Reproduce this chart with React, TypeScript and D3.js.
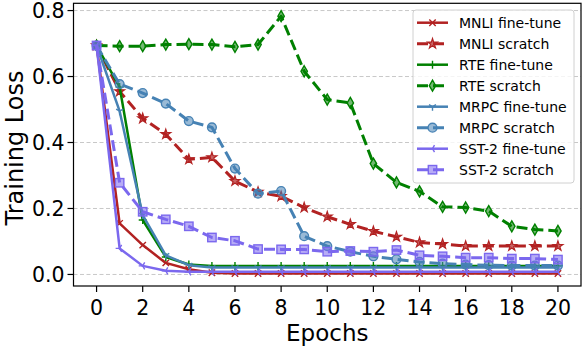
import React from "react";
import * as d3 from "d3";

// epochs on the x axis
const epochs = [0, 1, 2, 3, 4, 5, 6, 7, 8, 9, 10, 11, 12, 13, 14, 15, 16, 17, 18, 19, 20];

// training loss per epoch
const mnliFineTune = [0.694, 0.155, 0.089, 0.035, 0.016, 0.005, 0.003, 0.003, 0.003, 0.003, 0.003, 0.003, 0.003, 0.003, 0.003, 0.003, 0.003, 0.003, 0.003, 0.003, 0.003];
const mnliScratch = [0.694, 0.555, 0.473, 0.425, 0.349, 0.355, 0.283, 0.250, 0.237, 0.203, 0.175, 0.152, 0.131, 0.114, 0.097, 0.092, 0.086, 0.086, 0.086, 0.086, 0.086];
const rteFineTune = [0.694, 0.568, 0.165, 0.053, 0.030, 0.026, 0.026, 0.026, 0.026, 0.026, 0.026, 0.026, 0.026, 0.026, 0.026, 0.026, 0.026, 0.026, 0.026, 0.026, 0.026];
const rteScratch = [0.694, 0.692, 0.692, 0.697, 0.698, 0.697, 0.690, 0.697, 0.783, 0.616, 0.530, 0.520, 0.336, 0.279, 0.252, 0.205, 0.203, 0.192, 0.146, 0.136, 0.132];
const mrpcFineTune = [0.694, 0.495, 0.180, 0.058, 0.028, 0.021, 0.021, 0.021, 0.021, 0.021, 0.021, 0.021, 0.021, 0.021, 0.021, 0.021, 0.021, 0.021, 0.021, 0.021, 0.021];
const mrpcScratch = [0.694, 0.577, 0.550, 0.518, 0.465, 0.446, 0.321, 0.245, 0.253, 0.116, 0.086, 0.069, 0.055, 0.046, 0.038, 0.033, 0.030, 0.028, 0.027, 0.027, 0.027];
const sstFineTune = [0.694, 0.079, 0.026, 0.011, 0.008, 0.008, 0.008, 0.008, 0.008, 0.008, 0.008, 0.008, 0.008, 0.008, 0.008, 0.008, 0.008, 0.008, 0.008, 0.008, 0.008];
const sstScratch = [0.694, 0.278, 0.190, 0.167, 0.146, 0.112, 0.102, 0.077, 0.076, 0.076, 0.069, 0.071, 0.069, 0.074, 0.058, 0.055, 0.051, 0.051, 0.048, 0.048, 0.045];

const xTicks = [0, 2, 4, 6, 8, 10, 12, 14, 16, 18, 20];
const yTicks = [0.0, 0.2, 0.4, 0.6, 0.8];

type Marker = "x" | "star" | "plus" | "thin_diamond" | "tri_down" | "circle" | "tri_left" | "square";
type Series = { label: string; values: number[]; color: string; dashed: boolean; marker: Marker };

const series: Series[] = [
  { label: "MNLI fine-tune", values: mnliFineTune, color: "#b22222", dashed: false, marker: "x" },
  { label: "MNLI scratch", values: mnliScratch, color: "#b22222", dashed: true, marker: "star" },
  { label: "RTE fine-tune", values: rteFineTune, color: "#008000", dashed: false, marker: "plus" },
  { label: "RTE scratch", values: rteScratch, color: "#008000", dashed: true, marker: "thin_diamond" },
  { label: "MRPC fine-tune", values: mrpcFineTune, color: "#4682b4", dashed: false, marker: "tri_down" },
  { label: "MRPC scratch", values: mrpcScratch, color: "#4682b4", dashed: true, marker: "circle" },
  { label: "SST-2 fine-tune", values: sstFineTune, color: "#7b68ee", dashed: false, marker: "tri_left" },
  { label: "SST-2 scratch", values: sstScratch, color: "#7b68ee", dashed: true, marker: "square" },
];

const width = 584;
const height = 346;
const font = "'DejaVu Sans', sans-serif";

const starPath = d3.symbol(d3.symbolStar, 30)() as string;

function MarkerGlyph({ kind, color, x, y }: { kind: Marker; color: string; x: number; y: number }) {
  const t = `translate(${x},${y})`;
  const line = { stroke: color, strokeWidth: 1.4, fill: "none" };
  const filled = { stroke: color, strokeWidth: 1.4, fill: color, fillOpacity: 0.55 };
  switch (kind) {
    case "x":
      return <path transform={t} d="M-3.2,-3.2L3.2,3.2M-3.2,3.2L3.2,-3.2" {...line} />;
    case "plus":
      return <path transform={t} d="M-4,0L4,0M0,-4L0,4" {...line} />;
    case "tri_down":
      return <path transform={t} d="M0,0L0,4M0,0L-3.5,-2M0,0L3.5,-2" {...line} />;
    case "tri_left":
      return <path transform={t} d="M0,0L-4,0M0,0L2,-3.5M0,0L2,3.5" {...line} />;
    case "star":
      return <path transform={t} d={starPath} stroke={color} strokeWidth={1.2} fill={color} fillOpacity={0.7} />;
    case "thin_diamond":
      return <path transform={t} d="M0,-5.5L3.2,0L0,5.5L-3.2,0Z" {...filled} />;
    case "circle":
      return <circle cx={x} cy={y} r={4.4} {...filled} />;
    case "square":
      return <rect x={x - 4.2} y={y - 4.2} width={8.4} height={8.4} {...filled} />;
  }
}

export default function App() {
  const left = 73.5, right = 581, top = 3.3, bottom = 286;
  const x = d3.scaleLinear().domain([-1, 21]).range([left, right]);
  const y = d3.scaleLinear().domain([-0.035, 0.822]).range([bottom, top]);

  const line = d3.line<number>()
    .x((_, i) => x(epochs[i]))
    .y(d => y(d));

  const legendX = 413, legendY = 10, rowH = 21;

  return (
    <svg width={width} height={height} style={{ position: "absolute", left: 0, top: 0 }} fontFamily={font}>
      <rect width={width} height={height} fill="#fff" />

      {/* grid */}
      {yTicks.map(t => (
        <line key={"g" + t} x1={left} x2={right} y1={y(t)} y2={y(t)}
          stroke="#c8c8c8" strokeWidth={1} strokeDasharray="4,2.5" />
      ))}

      {/* series */}
      <g>
        {series.map(s => (
          <g key={s.label}>
            <path d={line(s.values) ?? ""} fill="none" stroke={s.color}
              strokeWidth={s.dashed ? 3 : 2.5} strokeDasharray={s.dashed ? "11,5" : undefined}
              strokeLinejoin="round" />
            {s.values.map((v, i) => (
              <MarkerGlyph key={i} kind={s.marker} color={s.color} x={x(epochs[i])} y={y(v)} />
            ))}
          </g>
        ))}
      </g>

      {/* frame */}
      <rect x={left} y={top} width={right - left} height={bottom - top} fill="none" stroke="#000" strokeWidth={1.2} />

      {/* x axis */}
      {xTicks.map(t => (
        <g key={"x" + t}>
          <line x1={x(t)} x2={x(t)} y1={bottom} y2={bottom + 6} stroke="#000" strokeWidth={1.2} />
          <text x={x(t)} y={314.5} textAnchor="middle" fontSize={20.5}>{t}</text>
        </g>
      ))}
      <text x={(left + right) / 2} y={340.5} textAnchor="middle" fontSize={23}>Epochs</text>

      {/* y axis */}
      {yTicks.map(t => (
        <g key={"y" + t}>
          <line x1={left - 6} x2={left} y1={y(t)} y2={y(t)} stroke="#000" strokeWidth={1.2} />
          <text x={left - 9} y={y(t)} dy="0.36em" textAnchor="end" fontSize={20.5}>{d3.format(".1f")(t)}</text>
        </g>
      ))}
      <text transform="translate(22.6,148) rotate(-90)" textAnchor="middle" fontSize={24}>Training Loss</text>

      {/* legend */}
      <rect x={legendX} y={legendY} width={161} height={173} rx={3} fill="#fff" fillOpacity={0.8}
        stroke="#d0d0d0" strokeWidth={1} />
      {series.map((s, i) => {
        const cy = legendY + 12.7 + i * rowH;
        return (
          <g key={"l" + s.label}>
            <line x1={417} x2={448} y1={cy} y2={cy} stroke={s.color}
              strokeWidth={s.dashed ? 3 : 2.5} strokeDasharray={s.dashed ? "11,5" : undefined} />
            <MarkerGlyph kind={s.marker} color={s.color} x={432.5} y={cy} />
            <text x={459} y={cy} dy="0.36em" fontSize={14}>{s.label}</text>
          </g>
        );
      })}
    </svg>
  );
}
